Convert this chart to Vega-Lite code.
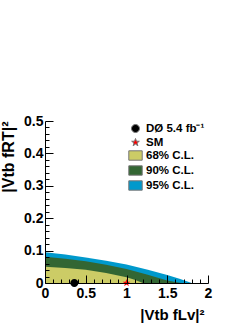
{
  "$schema": "https://vega.github.io/schema/vega-lite/v6.json",
  "width": 163,
  "height": 162,
  "autosize": "none",
  "padding": {"left": 45, "top": 121, "right": 41, "bottom": 40},
  "background": "white",
  "config": {
    "view": {"stroke": null},
    "font": "Liberation Sans",
    "axis": {"labelFont": "Liberation Sans", "titleFont": "Liberation Sans", "labelFontWeight": "bold", "titleFontWeight": "bold", "labelColor": "black", "titleColor": "black", "domainColor": "black", "tickColor": "black", "grid": false}
  },
  "datasets": {
    "regions": [
      {"label": "95% C.L.", "x": 0, "y": 0.095},
      {"label": "95% C.L.", "x": 0.25, "y": 0.088},
      {"label": "95% C.L.", "x": 0.5, "y": 0.079},
      {"label": "95% C.L.", "x": 0.75, "y": 0.069},
      {"label": "95% C.L.", "x": 1.0, "y": 0.057},
      {"label": "95% C.L.", "x": 1.25, "y": 0.042},
      {"label": "95% C.L.", "x": 1.5, "y": 0.025},
      {"label": "95% C.L.", "x": 1.65, "y": 0.013},
      {"label": "95% C.L.", "x": 1.8, "y": 0},
      {"label": "90% C.L.", "x": 0, "y": 0.081},
      {"label": "90% C.L.", "x": 0.25, "y": 0.075},
      {"label": "90% C.L.", "x": 0.5, "y": 0.067},
      {"label": "90% C.L.", "x": 0.75, "y": 0.056},
      {"label": "90% C.L.", "x": 1.0, "y": 0.043},
      {"label": "90% C.L.", "x": 1.25, "y": 0.026},
      {"label": "90% C.L.", "x": 1.5, "y": 0.008},
      {"label": "90% C.L.", "x": 1.67, "y": 0},
      {"label": "68% C.L.", "x": 0, "y": 0.05},
      {"label": "68% C.L.", "x": 0.25, "y": 0.046},
      {"label": "68% C.L.", "x": 0.5, "y": 0.041},
      {"label": "68% C.L.", "x": 0.75, "y": 0.031},
      {"label": "68% C.L.", "x": 1.0, "y": 0.018},
      {"label": "68% C.L.", "x": 1.1, "y": 0.01},
      {"label": "68% C.L.", "x": 1.2, "y": 0}
    ],
    "points": [
      {"label": "DØ 5.4 fb⁻¹", "x": 0.36, "y": 0},
      {"label": "SM", "x": 1.0, "y": 0}
    ]
  },
  "resolve": {"scale": {"x": "independent", "y": "independent"}, "axis": {"x": "independent", "y": "independent"}},
  "layer": [
    {
      "data": {"name": "regions"},
      "transform": [{"filter": "datum.label === '95% C.L.'"}],
      "mark": {"type": "area", "interpolate": "linear"},
      "encoding": {
        "x": {"field": "x", "type": "quantitative", "scale": {"domain": [0, 2], "nice": false, "zero": false},
          "axis": {"orient": "bottom", "values": [0.1,0.2,0.3,0.4,0.6,0.7,0.8,0.9,1.1,1.2,1.3,1.4,1.6,1.7,1.8,1.9], "labels": false, "domain": false, "zindex": 2, "tickSize": -4, "title": null}},
        "y": {"field": "y", "type": "quantitative", "stack": null, "scale": {"domain": [0, 0.5], "nice": false, "zero": false},
          "axis": {"orient": "left", "values": [0.02,0.04,0.06,0.08,0.12,0.14,0.16,0.18,0.22,0.24,0.26,0.28,0.32,0.34,0.36,0.38,0.42,0.44,0.46,0.48], "labels": false, "domain": false, "zindex": 2, "tickSize": -4, "title": null}},
        "color": {"field": "label", "type": "nominal",
          "scale": {"domain": ["DØ 5.4 fb⁻¹", "SM", "68% C.L.", "90% C.L.", "95% C.L."], "range": ["#000000", "#ff0000", "#cccc66", "#336633", "#0099cc"]},
          "legend": {"orient": "none", "legendX": 83, "legendY": 0, "title": null, "padding": 0, "rowPadding": 0, "symbolSize": 180, "symbolStrokeColor": "#777777", "symbolStrokeWidth": 1, "symbolType": "M-1,-0.7L1,-0.7L1,0.7L-1,0.7Z", "labelFont": "Liberation Sans", "labelFontWeight": "bold", "labelFontSize": 11.5, "labelColor": "black", "labelOffset": 3}}
      }
    },
    {
      "data": {"name": "regions"},
      "transform": [{"filter": "datum.label === '90% C.L.'"}],
      "mark": {"type": "area", "interpolate": "linear"},
      "encoding": {
        "x": {"field": "x", "type": "quantitative", "scale": {"domain": [0, 2], "nice": false, "zero": false},
          "axis": {"orient": "bottom", "values": [0, 0.5, 1, 1.5, 2], "format": "~g", "labelFontSize": 14, "tickSize": -8, "labelPadding": 11, "labelFlush": false, "domainWidth": 1, "zindex": 2,
            "title": "|Vtb fLv|²", "titleFontSize": 15, "titleX": 159, "titleY": 36, "titleAlign": "right", "titleBaseline": "alphabetic"}},
        "y": {"field": "y", "type": "quantitative", "stack": null, "scale": {"domain": [0, 0.5], "nice": false, "zero": false},
          "axis": {"orient": "left", "values": [0, 0.1, 0.2, 0.3, 0.4, 0.5], "format": "~g", "labelFontSize": 14, "tickSize": -8, "labelPadding": 10, "labelFlush": false, "zindex": 2,
            "title": "|Vtb fRT|²", "titleFontSize": 16, "titleX": -37, "titleY": 0, "titleAlign": "right", "titleBaseline": "middle", "titleAngle": -90}},
        "color": {"field": "label", "type": "nominal"}
      }
    },
    {
      "data": {"name": "regions"},
      "transform": [{"filter": "datum.label === '68% C.L.'"}],
      "mark": {"type": "area", "interpolate": "linear"},
      "encoding": {
        "x": {"field": "x", "type": "quantitative", "scale": {"domain": [0, 2], "nice": false, "zero": false}, "axis": null},
        "y": {"field": "y", "type": "quantitative", "stack": null, "scale": {"domain": [0, 0.5], "nice": false, "zero": false}, "axis": null},
        "color": {"field": "label", "type": "nominal"}
      }
    },
    {
      "mark": {"type": "rule", "color": "#8b2a2a", "strokeWidth": 1},
      "encoding": {"x": {"datum": 2, "type": "quantitative", "scale": {"domain": [0, 2], "nice": false, "zero": false}, "axis": null}}
    },
    {
      "mark": {"type": "rule", "color": "#b0b0b0", "strokeWidth": 1},
      "encoding": {"y": {"datum": 0.5, "type": "quantitative", "scale": {"domain": [0, 0.5], "nice": false, "zero": false}, "axis": null}}
    },
    {
      "data": {"name": "points"},
      "mark": {"type": "point", "filled": true, "opacity": 1, "size": 180, "strokeWidth": 0},
      "encoding": {
        "x": {"field": "x", "type": "quantitative", "scale": {"domain": [0, 2], "nice": false, "zero": false}, "axis": null},
        "y": {"field": "y", "type": "quantitative", "scale": {"domain": [0, 0.5], "nice": false, "zero": false}, "axis": null},
        "color": {"field": "label", "type": "nominal"},
        "shape": {"field": "label", "type": "nominal",
          "scale": {"domain": ["DØ 5.4 fb⁻¹", "SM", "68% C.L.", "90% C.L.", "95% C.L."],
            "range": ["M-0.6,0A0.6,0.6 0 1,0 0.6,0A0.6,0.6 0 1,0 -0.6,0Z", "M0,-0.6L0.141,-0.194L0.571,-0.185L0.228,0.074L0.353,0.485L0,0.24L-0.353,0.485L-0.228,0.074L-0.571,-0.185L-0.141,-0.194Z", "M-1,-0.7L1,-0.7L1,0.7L-1,0.7Z", "M-1,-0.7L1,-0.7L1,0.7L-1,0.7Z", "M-1,-0.7L1,-0.7L1,0.7L-1,0.7Z"]},
          "legend": null}
      }
    },
    {
      "mark": {"type": "text", "text": "(c)", "font": "Liberation Sans", "fontWeight": "bold", "fontSize": 14, "align": "left", "baseline": "middle", "color": "black"},
      "encoding": {
        "x": {"datum": 0.08, "type": "quantitative", "scale": {"domain": [0, 2], "nice": false, "zero": false}, "axis": null},
        "y": {"datum": 0.45, "type": "quantitative", "scale": {"domain": [0, 0.5], "nice": false, "zero": false}, "axis": null}}
    }
  ]
}
